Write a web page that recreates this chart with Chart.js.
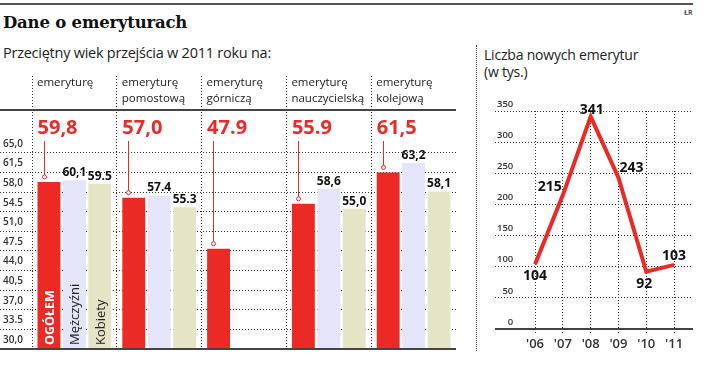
<!DOCTYPE html>
<html>
<head>
<meta charset="utf-8">
<script src="https://cdn.jsdelivr.net/npm/chart.js@4.4.0/dist/chart.umd.min.js"></script>
<style>
    html, body { margin: 0; padding: 0; background: #fff; }
    body { width: 706px; height: 372px; position: relative; overflow: hidden; font-family: 'Open Sans', sans-serif; color: #222; }
    .abs { position: absolute; }
    #rule { left: 0; top: 3px; width: 693px; height: 2px; background: #555; }
    #tag { left: 684px; top: 8px; font-size: 7px; font-weight: 700; color: #555; }
    #title { left: 3px; top: 13px; font-family: 'DejaVu Serif', serif; font-weight: 700; font-size: 16.5px; color: #111; white-space: nowrap; letter-spacing: -0.2px; }
    #subtitle { left: 3px; top: 43px; font-size: 14.5px; letter-spacing: -0.25px; white-space: nowrap; }
    #sep { left: 476px; top: 45px; height: 306px; border-left: 1px dotted #444; }
    #rtitle { left: 484px; top: 46px; font-size: 14px; line-height: 17px; letter-spacing: -0.2px; white-space: nowrap; }
    #left { left: 0; top: 70px; }
    #right { left: 476px; top: 95px; }
</style>
</head>
<body>
<div id="rule" class="abs"></div>
<div id="tag" class="abs">ŁR</div>
<div id="title" class="abs">Dane o emeryturach</div>
<div id="subtitle" class="abs">Przeciętny wiek przejścia w 2011 roku na:</div>
<div id="sep" class="abs"></div>
<div id="rtitle" class="abs">Liczba nowych emerytur<br>(w tys.)</div>
<canvas id="left" class="abs" width="460" height="285"></canvas>
<canvas id="right" class="abs" width="230" height="262"></canvas>
<script>
// wiek przejścia na emeryturę, 2011
const categories = [
    ['emeryturę'],
    ['emeryturę', 'pomostową'],
    ['emeryturę', 'górniczą'],
    ['emeryturę', 'nauczycielską'],
    ['emeryturę', 'kolejową']
];
const seriesNames = ['OGÓŁEM', 'Mężczyźni', 'Kobiety'];
const totalAge = [59.8, 57.0, 47.9, 55.9, 61.5];
const menAge = [60.1, 57.4, null, 58.6, 63.2];
const womenAge = [59.5, 55.3, null, 55.0, 58.1];
const totalLabels = ['59,8', '57,0', '47.9', '55.9', '61,5'];
const menLabels = ['60,1', '57.4', '', '58,6', '63,2'];
const womenLabels = ['59.5', '55.3', '', '55,0', '58,1'];
const ageTickValues = [30, 33.5, 37, 40.5, 44, 47.5, 51, 54.5, 58, 61.5, 65];
const ageTicks = ['30,0', '33.5', '37,0', '40,5', '44,0', '47.5', '51,0', '54.5', '58,0', '61,5', '65,0'];

// liczba nowych emerytur (tys.)
const years = ["'06", "'07", "'08", "'09", "'10", "'11"];
const newPensions = [104, 215, 341, 243, 92, 103];
const pensionTicks = [0, 50, 100, 150, 200, 250, 300, 350];

const RED = '#ec2a25';
const LAVENDER = '#e5e5fa';
const BEIGE = '#e4e4c6';
const DOTS = '#333';
const NONE = 'rgba(0,0,0,0)';

Chart.defaults.font.family = "'Open Sans', sans-serif";
Chart.defaults.color = '#222';

const barLabels = {
    id: 'barLabels',
    afterDatasetsDraw(chart) {
        const { ctx, chartArea } = chart;
        const x = chart.scales.x;
        const y = chart.scales.y;
        const band = x.getPixelForValue(1) - x.getPixelForValue(0);
        ctx.save();

        // naglowki kolumn
        ctx.fillStyle = '#222';
        ctx.font = '11.5px "Open Sans"';
        ctx.textAlign = 'left';
        ctx.textBaseline = 'alphabetic';
        categories.forEach((lines, i) => {
            const left = x.getPixelForValue(i) - band / 2 + 5;
            lines.forEach((t, j) => ctx.fillText(t, left, 16 + j * 16));
        });

        ctx.fillStyle = '#444';
        ctx.fillRect(0, 39, chartArea.right, 2);
        const base = Math.round(y.getPixelForValue(30));
        ctx.fillRect(0, base - 1, chartArea.right, 2);

        // ogolem: duze etykiety z odnosnikiem
        chart.getDatasetMeta(0).data.forEach((bar, i) => {
            const left = bar.x - bar.width / 2;
            ctx.fillStyle = RED;
            ctx.font = 'bold 20px "Open Sans"';
            ctx.textAlign = 'left';
            ctx.fillText(totalLabels[i], left, 64);
            const lx = Math.round(left + 6) + 0.5;
            const cy = bar.y - 5;
            ctx.strokeStyle = RED;
            ctx.lineWidth = 1;
            ctx.beginPath();
            ctx.moveTo(lx, 71);
            ctx.lineTo(lx, cy - 2);
            ctx.stroke();
            ctx.beginPath();
            ctx.arc(lx, cy, 2, 0, Math.PI * 2);
            ctx.fillStyle = '#fff';
            ctx.fill();
            ctx.stroke();
        });

        // mezczyzni / kobiety
        [menLabels, womenLabels].forEach((labels, k) => {
            chart.getDatasetMeta(k + 1).data.forEach((bar, i) => {
                if (!labels[i]) return;
                ctx.fillStyle = '#111';
                ctx.font = 'bold 12px "Open Sans"';
                ctx.textAlign = 'center';
                ctx.fillText(labels[i], bar.x, bar.y - 4);
            });
        });

        // opisy pionowe w pierwszej grupie
        seriesNames.forEach((name, d) => {
            const bar = chart.getDatasetMeta(d).data[0];
            ctx.save();
            ctx.translate(bar.x, base - 4);
            ctx.rotate(-Math.PI / 2);
            ctx.textAlign = 'left';
            ctx.textBaseline = 'middle';
            ctx.fillStyle = d === 0 ? '#fff' : '#222';
            ctx.font = d === 0 ? 'bold 12.5px "Open Sans"' : '13px "Open Sans"';
            ctx.fillText(name, 0, 1);
            ctx.restore();
        });
        ctx.restore();
    }
};

new Chart(document.getElementById('left'), {
    type: 'bar',
    data: {
        labels: categories.map((c) => c.join(' ')),
        datasets: [
            { label: seriesNames[0], data: totalAge, backgroundColor: RED },
            { label: seriesNames[1], data: menAge, backgroundColor: LAVENDER },
            { label: seriesNames[2], data: womenAge, backgroundColor: BEIGE }
        ]
    },
    options: {
        responsive: false,
        animation: false,
        devicePixelRatio: 1,
        categoryPercentage: 0.9,
        barPercentage: 0.9,
        layout: { padding: { left: 3, right: 4, top: 5, bottom: 6 } },
        plugins: { legend: { display: false }, tooltip: { enabled: false } },
        scales: {
            x: {
                type: 'category',
                offset: true,
                grid: {
                    offset: true,
                    drawTicks: false,
                    color: (ctx) => (ctx.type === 'tick' ? DOTS : NONE),
                    lineWidth: 1
                },
                border: { display: false, dash: [1, 2] },
                ticks: { display: false },
                afterFit: (s) => { s.height = 0; }
            },
            y: {
                min: 30,
                max: 78.7,
                afterBuildTicks: (s) => { s.ticks = ageTickValues.map((v) => ({ value: v })); },
                grid: {
                    drawTicks: true,
                    tickLength: 32,
                    color: (ctx) => (ctx.tick && ctx.tick.value > 30.01 ? DOTS : NONE),
                    tickColor: (ctx) => (ctx.tick && ctx.tick.value > 30.01 ? DOTS : NONE),
                    tickBorderDash: [1, 2],
                    lineWidth: 1
                },
                border: { display: false, dash: [1, 2] },
                ticks: {
                    crossAlign: 'far',
                    labelOffset: -9,
                    padding: 0,
                    color: '#333',
                    font: { size: 10, weight: '600' },
                    callback: (v, i) => ageTicks[i]
                },
                afterFit: (s) => { s.width = 29; }
            }
        }
    },
    plugins: [barLabels]
});

const lineLabelOffsets = [[0, 12], [-13, -8], [1, -7], [13, -10], [-2, 12], [0, -9]];

const lineLabels = {
    id: 'lineLabels',
    beforeDatasetsDraw(chart) {
        const { ctx, chartArea } = chart;
        ctx.save();
        ctx.fillStyle = '#444';
        ctx.fillRect(chartArea.left, Math.round(chartArea.bottom) - 1, chartArea.right - chartArea.left, 2);
        ctx.restore();
    },
    afterDatasetsDraw(chart) {
        const { ctx } = chart;
        ctx.save();
        ctx.fillStyle = '#111';
        ctx.font = 'bold 14px "Open Sans"';
        ctx.textAlign = 'center';
        ctx.textBaseline = 'middle';
        chart.getDatasetMeta(0).data.forEach((pt, i) => {
            const [dx, dy] = lineLabelOffsets[i];
            ctx.fillText(String(newPensions[i]), pt.x + dx, pt.y + dy);
        });
        ctx.restore();
    }
};

new Chart(document.getElementById('right'), {
    type: 'line',
    data: {
        datasets: [{
            label: 'Liczba nowych emerytur',
            data: newPensions.map((v, i) => ({ x: i, y: v })),
            borderColor: RED,
            borderWidth: 4,
            pointRadius: 0,
            tension: 0,
            fill: false
        }]
    },
    options: {
        responsive: false,
        animation: false,
        devicePixelRatio: 1,
        layout: { padding: { left: 0, right: 13, top: 16, bottom: 0 } },
        plugins: { legend: { display: false }, tooltip: { enabled: false } },
        scales: {
            x: {
                type: 'linear',
                min: -1.44,
                max: 5.68,
                afterBuildTicks: (s) => { s.ticks = years.map((_, i) => ({ value: i })); },
                grid: {
                    color: DOTS,
                    tickColor: DOTS,
                    lineWidth: 1,
                    tickLength: 5,
                    tickBorderDash: [1, 2]
                },
                border: { display: false, dash: [1, 2] },
                ticks: {
                    padding: 2,
                    color: '#333',
                    font: { size: 13, weight: '600' },
                    callback: (v) => years[v]
                },
                afterFit: (s) => { s.height = 28; }
            },
            y: {
                min: 0,
                max: 350,
                afterBuildTicks: (s) => { s.ticks = pensionTicks.map((v) => ({ value: v })); },
                grid: {
                    drawTicks: false,
                    color: (ctx) => (ctx.tick && ctx.tick.value > 0 ? DOTS : NONE),
                    lineWidth: 1
                },
                border: { display: false, dash: [1, 2] },
                ticks: {
                    mirror: true,
                    crossAlign: 'far',
                    padding: 2,
                    labelOffset: -7,
                    color: '#333',
                    font: { size: 9.5, weight: '600' }
                },
                afterFit: (s) => { s.width = 19; }
            }
        }
    },
    plugins: [lineLabels]
});
</script>
</body>
</html>
